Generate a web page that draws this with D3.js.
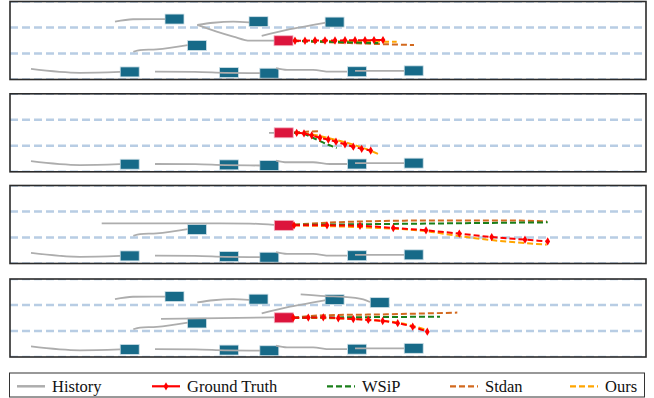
<!DOCTYPE html>
<html>
<head>
<meta charset="utf-8">
<script src="https://cdn.jsdelivr.net/npm/d3@7"></script>
<style>
  body { margin: 0; background: #fff; }
  svg { display: block; }
</style>
</head>
<body>
<div id="chart"></div>
<script>
// lane markings, lateral position in ft
const laneLines = [0, 12, 24, 36];

// vehicles in the lowest lane (centre x, y in ft) and their histories
const lowerCars = [[119.7, 32.5], [219, 32.8], [259.3, 33.1], [347, 32.4], [403.7, 32.0]];
const lowerHist = [
  [[21, 31.1], [70, 32.9], [110, 32.5]],
  [[145, 32.4], [185, 32.5], [215, 32.9], [250, 33.1]],
  [[266, 30.8], [277, 31.6], [303, 31.6], [320, 32.4], [337, 32.4]],
  [[345, 32.0], [394, 32.0]]
];

// car merging in the middle lane
const mergeCar = [187, 20.3];
const mergeHist = [[123.3, 23.2], [130, 22.4], [146.7, 22.1], [177.7, 20.1]];

// vehicles in the upper lane
const upperCars = [[164.5, 8.1], [248.5, 9.3], [324.6, 9.5]];
const upperHist = [
  [[105, 9.3], [123, 8.2], [155, 8.1]],
  [[187.3, 10.8], [203.3, 9.8], [223.3, 9.3], [239, 9.6]],
  [[251.7, 15.9], [280, 12.8], [303.3, 10.8], [315.3, 9.8]]
];
const extraCar = [369.7, 10.9];
const extraHist = [[290.7, 7.1], [315, 7.9], [334, 8.2], [353.3, 9.4], [360, 10.6]];

// ego vehicle, one per scenario
const egoPos = [[273.5, 18.1], [273.7, 18.0], [273.8, 18.4], [273.8, 17.9]];
const egoHist = [
  [[187.3, 10.8], [206.7, 13.9], [223.3, 16.2], [240, 18.1], [264, 18.1]],
  [[259, 18.0], [264, 18.0]],
  [[91.7, 17.5], [140, 17.5], [190, 17.5], [240, 17.6], [264, 18.2]],
  [[151, 18.4], [210, 18.1], [264, 17.7]]
];

// future trajectories
const truth = [
  [[285, 18.1], [295, 18.1], [305, 18.0], [315, 18.0], [325, 18.0], [335, 17.9], [345, 17.9], [355, 17.9], [364, 17.8], [373, 17.8]],
  [[286.7, 18.0], [294, 18.3], [301.7, 19.2], [310, 20.3], [318.3, 21.1], [326, 22.1], [335, 23.3], [343.3, 24.4], [351.7, 25.4], [360.7, 26.2]],
  [[284, 18.4], [317, 18.4], [350, 18.6], [383.3, 19.6], [416, 20.7], [449.3, 22.2], [481.7, 23.8], [515, 25.0], [537.7, 25.8]],
  [[283.3, 17.9], [298.3, 17.8], [313.3, 17.7], [328.3, 18.1], [343.3, 18.5], [358.3, 18.9], [372.7, 19.4], [387.7, 20.4], [402.7, 22.0], [417.3, 24.3]]
];
const wsip = [
  [[283, 18.1], [320, 18.6], [368.3, 19.2]],
  [[284, 18.0], [290, 18.1], [303.3, 20.4], [316.7, 23.2], [326.7, 25.0]],
  [[284, 18.2], [410, 17.6], [537.7, 17.0]],
  [[283, 17.9], [360, 17.6], [430, 17.4]]
];
const stdan = [
  [[283, 18.2], [340, 19.2], [404, 20.1]],
  [[284, 17.9], [300, 17.4], [310, 17.3]],
  [[284, 18.0], [320, 17.1], [370, 16.4], [440, 16.1], [510, 16.2], [537, 16.6]],
  [[283, 17.9], [310, 16.8], [376.7, 16.3], [447.3, 15.5]]
];
const ours = [
  [[283, 18.1], [330, 18.3], [386.7, 18.6]],
  [[284, 18.0], [300, 18.6], [320, 20.6], [340, 23.0], [355, 25.3], [370, 28.1]],
  [[284, 18.4], [353, 19.3], [416.7, 21.1], [450, 23.4], [481.7, 25.2], [536.7, 27.3]],
  [[283.3, 17.9], [330, 18.2], [360, 18.9], [390, 20.3], [416.7, 23.5]]
];

const legendLabels = ['History', 'Ground Truth', 'WSiP', 'Stdan', 'Ours'];

// which surrounding vehicles appear in each panel
const panelScenes = [
  { merge: true, upper: true, extra: false },
  { merge: false, upper: false, extra: false },
  { merge: true, upper: false, extra: false },
  { merge: true, upper: true, extra: true }
];

// ---- layout ----
const W = 654, H = 398;
const panelTop = [1.5, 93.8, 185.5, 279];
const panelH = 78;
const carL = 19, carW = 4.6;

const colors = {
  lane: '#b8cde4', car: '#176a88', ego: '#dc143c', hist: '#adadad',
  truth: '#ff0000', wsip: '#1a7f1a', stdan: '#d2691e', ours: '#ffa500'
};

const svg = d3.select('#chart').append('svg')
  .attr('width', W).attr('height', H);

const x = d3.scaleLinear().domain([0, 636]).range([10, 646]);

panelTop.forEach((top, i) => {
  const y = d3.scaleLinear().domain([0, 36]).range([top, top + panelH]);
  const path = d3.line().x(d => x(d[0])).y(d => y(d[1])).curve(d3.curveMonotoneX);

  const g = svg.append('g');
  g.append('clipPath').attr('id', 'clip' + i)
    .append('rect').attr('x', 10).attr('y', top).attr('width', 636).attr('height', panelH);
  const inner = g.append('g').attr('clip-path', `url(#clip${i})`);

  // lanes
  inner.selectAll('.lane').data(laneLines).enter().append('line')
    .attr('x1', x(0)).attr('x2', x(636))
    .attr('y1', d => y(d)).attr('y2', d => y(d))
    .style('stroke', colors.lane).style('stroke-width', 2.5)
    .style('stroke-dasharray', '8,4');

  // vehicles
  const scene = panelScenes[i];
  let cars = lowerCars.slice();
  let hists = lowerHist.slice();
  if (scene.merge) { cars.push(mergeCar); hists.push(mergeHist); }
  if (scene.upper) { cars = cars.concat(upperCars); hists = hists.concat(upperHist); }
  if (scene.extra) { cars.push(extraCar); hists.push(extraHist); }

  inner.selectAll('.car').data(cars).enter().append('rect')
    .attr('x', d => x(d[0] - carL / 2)).attr('y', d => y(d[1] - carW / 2))
    .attr('width', x(carL) - x(0)).attr('height', y(carW) - y(0))
    .style('fill', colors.car).style('stroke', '#cfe0e8').style('stroke-width', 0.8);

  inner.append('rect')
    .attr('x', x(egoPos[i][0] - carL / 2)).attr('y', y(egoPos[i][1] - carW / 2))
    .attr('width', x(carL) - x(0)).attr('height', y(carW) - y(0))
    .style('fill', colors.ego).style('stroke', '#f3b3c0').style('stroke-width', 0.8);

  // histories
  inner.selectAll('.hist').data(hists.concat([egoHist[i]])).enter().append('path')
    .attr('d', path)
    .style('fill', 'none').style('stroke', colors.hist).style('stroke-width', 1.8);

  // predictions
  [[ours[i], colors.ours], [stdan[i], colors.stdan], [wsip[i], colors.wsip]].forEach(([pts, c]) => {
    inner.append('path').attr('d', path(pts))
      .style('fill', 'none').style('stroke', c).style('stroke-width', 2)
      .style('stroke-dasharray', '6,3');
  });
  inner.append('path').attr('d', path(truth[i]))
    .style('fill', 'none').style('stroke', colors.truth).style('stroke-width', 2)
    .style('stroke-dasharray', '6,3');
  inner.selectAll('.gt').data(truth[i]).enter().append('path')
    .attr('transform', d => `translate(${x(d[0])},${y(d[1])})`)
    .attr('d', d3.symbol(d3.symbolDiamond).size(20))
    .style('fill', colors.truth);

  // frame
  g.append('rect').attr('x', 10).attr('y', top).attr('width', 636).attr('height', panelH)
    .style('fill', 'none').style('stroke', '#2b2b2b').style('stroke-width', 1.6);
});

// legend
const legend = svg.append('g');
legend.append('rect').attr('x', 9.5).attr('y', 373).attr('width', 635).attr('height', 24)
  .style('fill', '#fff').style('stroke', '#333').style('stroke-width', 1);

const legendX = [17, 152, 327, 450, 570];
const legendStyle = [
  { c: colors.hist, dash: null, marker: false },
  { c: colors.truth, dash: null, marker: true },
  { c: colors.wsip, dash: '6,3', marker: false },
  { c: colors.stdan, dash: '6,3', marker: false },
  { c: colors.ours, dash: '6,3', marker: false }
];
legendLabels.forEach((lab, k) => {
  const lx = legendX[k], s = legendStyle[k];
  legend.append('line').attr('x1', lx).attr('x2', lx + 28).attr('y1', 386.3).attr('y2', 386.3)
    .style('stroke', s.c).style('stroke-width', k === 0 ? 2.5 : 2.2)
    .style('stroke-dasharray', s.dash);
  if (s.marker) {
    legend.append('path').attr('transform', `translate(${lx + 14},386.3)`)
      .attr('d', d3.symbol(d3.symbolDiamond).size(20)).style('fill', s.c);
  }
  legend.append('text').attr('x', lx + 35).attr('y', 391.5)
    .text(lab)
    .style('font-family', '"Liberation Serif", "Times New Roman", serif')
    .style('font-size', '16.5px').style('fill', '#111');
});
</script>
</body>
</html>
